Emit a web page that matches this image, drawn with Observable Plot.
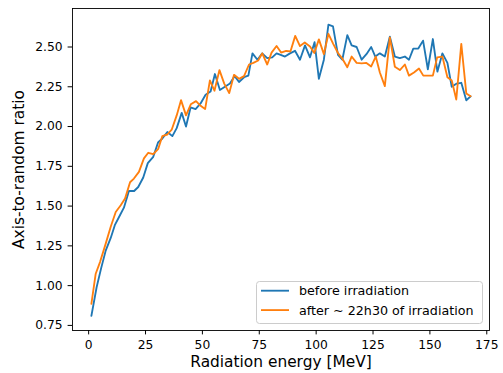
<!DOCTYPE html>
<html>
<head>
<meta charset="utf-8">
<script src="https://cdn.jsdelivr.net/npm/d3@7"></script>
<script src="https://cdn.jsdelivr.net/npm/@observablehq/plot@0.6"></script>
<style>
  html, body { margin: 0; padding: 0; background: white; }
  #chart { width: 503px; height: 373px; }
</style>
</head>
<body>
<div id="chart"></div>
<script>
// Series: before irradiation (blue)
const energyBefore = [1.2, 3.5, 5.5, 7.5, 9.7, 11.5, 13.3, 15.5, 17.7, 20.0, 21.8, 24.0, 26.0, 28.4, 30.5, 32.4, 34.6, 36.8, 38.7, 40.9, 42.8, 44.8, 47.0, 49.2, 51.4, 53.6, 55.5, 57.7, 59.9, 62.1, 64.2, 66.1, 68.3, 70.2, 72.0, 74.2, 76.3, 78.5, 80.7, 82.6, 84.4, 86.3, 88.5, 90.7, 92.9, 95.1, 97.3, 99.3, 101.2, 103.4, 105.4, 107.4, 109.6, 111.5, 113.7, 115.6, 117.8, 120.0, 122.1, 124.2, 126.0, 128.0, 130.2, 132.4, 134.6, 136.8, 139.0, 140.8, 142.7, 144.9, 147.0, 149.1, 151.3, 153.3, 155.5, 157.7, 159.6, 161.8, 163.8, 166.0, 167.9];
const ratioBefore = [0.81, 0.99, 1.11, 1.22, 1.30, 1.38, 1.43, 1.49, 1.595, 1.595, 1.62, 1.68, 1.77, 1.81, 1.90, 1.925, 1.966, 1.94, 1.99, 2.086, 2.0, 2.12, 2.11, 2.145, 2.20, 2.22, 2.33, 2.23, 2.25, 2.27, 2.317, 2.28, 2.31, 2.32, 2.46, 2.42, 2.46, 2.43, 2.435, 2.46, 2.45, 2.44, 2.46, 2.476, 2.42, 2.51, 2.435, 2.53, 2.30, 2.42, 2.64, 2.63, 2.45, 2.42, 2.575, 2.51, 2.50, 2.42, 2.455, 2.50, 2.44, 2.46, 2.44, 2.565, 2.44, 2.43, 2.44, 2.42, 2.49, 2.49, 2.54, 2.36, 2.55, 2.345, 2.46, 2.40, 2.25, 2.27, 2.275, 2.165, 2.19];

// Series: after ~22h30 of irradiation (orange)
const energyAfter = [1.2, 3.1, 5.0, 7.5, 9.7, 11.9, 14.1, 16.0, 18.2, 19.9, 22.1, 24.3, 26.2, 28.4, 30.6, 32.4, 34.6, 36.5, 38.7, 40.6, 42.8, 44.9, 47.2, 49.2, 51.2, 53.3, 55.3, 57.5, 59.6, 61.8, 63.9, 66.1, 68.3, 70.5, 72.4, 74.5, 76.3, 78.5, 80.4, 82.6, 84.6, 86.8, 88.7, 90.8, 92.9, 95.0, 97.3, 99.2, 101.2, 103.4, 105.4, 107.5, 109.6, 111.6, 113.7, 115.6, 117.8, 120.0, 122.1, 124.2, 126.2, 128.0, 130.2, 132.4, 134.6, 136.8, 139.0, 140.8, 143.0, 145.2, 147.1, 149.1, 151.3, 153.2, 155.5, 157.7, 159.6, 161.6, 163.8, 166.0, 167.9];
const ratioAfter = [0.886, 1.075, 1.148, 1.264, 1.37, 1.463, 1.505, 1.547, 1.65, 1.673, 1.715, 1.80, 1.835, 1.826, 1.86, 1.94, 1.95, 1.98, 2.07, 2.166, 2.07, 2.14, 2.16, 2.13, 2.11, 2.29, 2.225, 2.355, 2.27, 2.21, 2.325, 2.30, 2.317, 2.39, 2.40, 2.415, 2.46, 2.39, 2.465, 2.506, 2.465, 2.475, 2.472, 2.57, 2.506, 2.528, 2.503, 2.462, 2.548, 2.455, 2.583, 2.52, 2.462, 2.425, 2.373, 2.44, 2.40, 2.397, 2.40, 2.378, 2.44, 2.34, 2.254, 2.56, 2.376, 2.355, 2.39, 2.32, 2.34, 2.365, 2.32, 2.32, 2.32, 2.435, 2.44, 2.31, 2.29, 2.17, 2.52, 2.208, 2.19];

const xTicks = [0, 25, 50, 75, 100, 125, 150, 175];
const yTicks = [0.75, 1.00, 1.25, 1.50, 1.75, 2.00, 2.25, 2.50];
const seriesNames = ["before irradiation", "after ~ 22h30 of irradiation"];
const seriesColors = ["#1f77b4", "#ff7f0e"];
const xLabel = "Radiation energy [MeV]";
const yLabel = "Axis-to-random ratio";

const before = energyBefore.map((e, i) => ({energy: e, ratio: ratioBefore[i]}));
const after = energyAfter.map((e, i) => ({energy: e, ratio: ratioAfter[i]}));

const chart = Plot.plot({
  width: 503,
  height: 373,
  marginLeft: 72,
  marginRight: 14,
  marginTop: 8,
  marginBottom: 43,
  style: {fontFamily: "DejaVu Sans", fontSize: "12.3px", color: "black", background: "white"},
  x: {domain: [-7.1, 176.2]},
  y: {domain: [0.718, 2.742]},
  marks: [
    Plot.axisX({ticks: xTicks, tickSize: 4.4, tickPadding: 5, label: null, tickFormat: d => String(d)}),
    Plot.axisY({ticks: yTicks, tickSize: 4.4, tickPadding: 5.5, label: null, tickFormat: d3.format(".2f")}),
    Plot.line(before, {x: "energy", y: "ratio", stroke: seriesColors[0], strokeWidth: 1.85}),
    Plot.line(after, {x: "energy", y: "ratio", stroke: seriesColors[1], strokeWidth: 1.85}),
    Plot.frame({stroke: "black", strokeWidth: 0.9}),
    Plot.text([xLabel], {text: d => d, frameAnchor: "bottom", lineAnchor: "middle", textAnchor: "middle", dy: 32, fontSize: 15.4}),
    Plot.text([yLabel], {text: d => d, frameAnchor: "left", lineAnchor: "middle", textAnchor: "middle", dx: -53, rotate: -90, fontSize: 15.4})
  ]
});
document.getElementById("chart").appendChild(chart);

// Legend (lower right, matplotlib style)
const svg = d3.select(chart);
const lg = svg.append("g")
  .attr("font-family", "DejaVu Sans")
  .attr("font-size", "12.7px")
  .attr("text-anchor", "start");
lg.append("rect")
  .attr("x", 256.5).attr("y", 281.5).attr("width", 226).attr("height", 42)
  .attr("rx", 3).attr("ry", 3)
  .attr("fill", "white").attr("fill-opacity", 0.8)
  .attr("stroke", "#cccccc").attr("stroke-width", 1);
seriesNames.forEach((name, i) => {
  const yy = 290.7 + i * 19.4;
  lg.append("line").attr("x1", 261).attr("x2", 289).attr("y1", yy).attr("y2", yy)
    .attr("stroke", seriesColors[i]).attr("stroke-width", 1.85);
  lg.append("text").attr("x", 299).attr("y", yy).attr("dy", "0.35em")
    .attr("text-anchor", "start")
    .attr("fill", "black").text(name);
});
</script>
</body>
</html>
